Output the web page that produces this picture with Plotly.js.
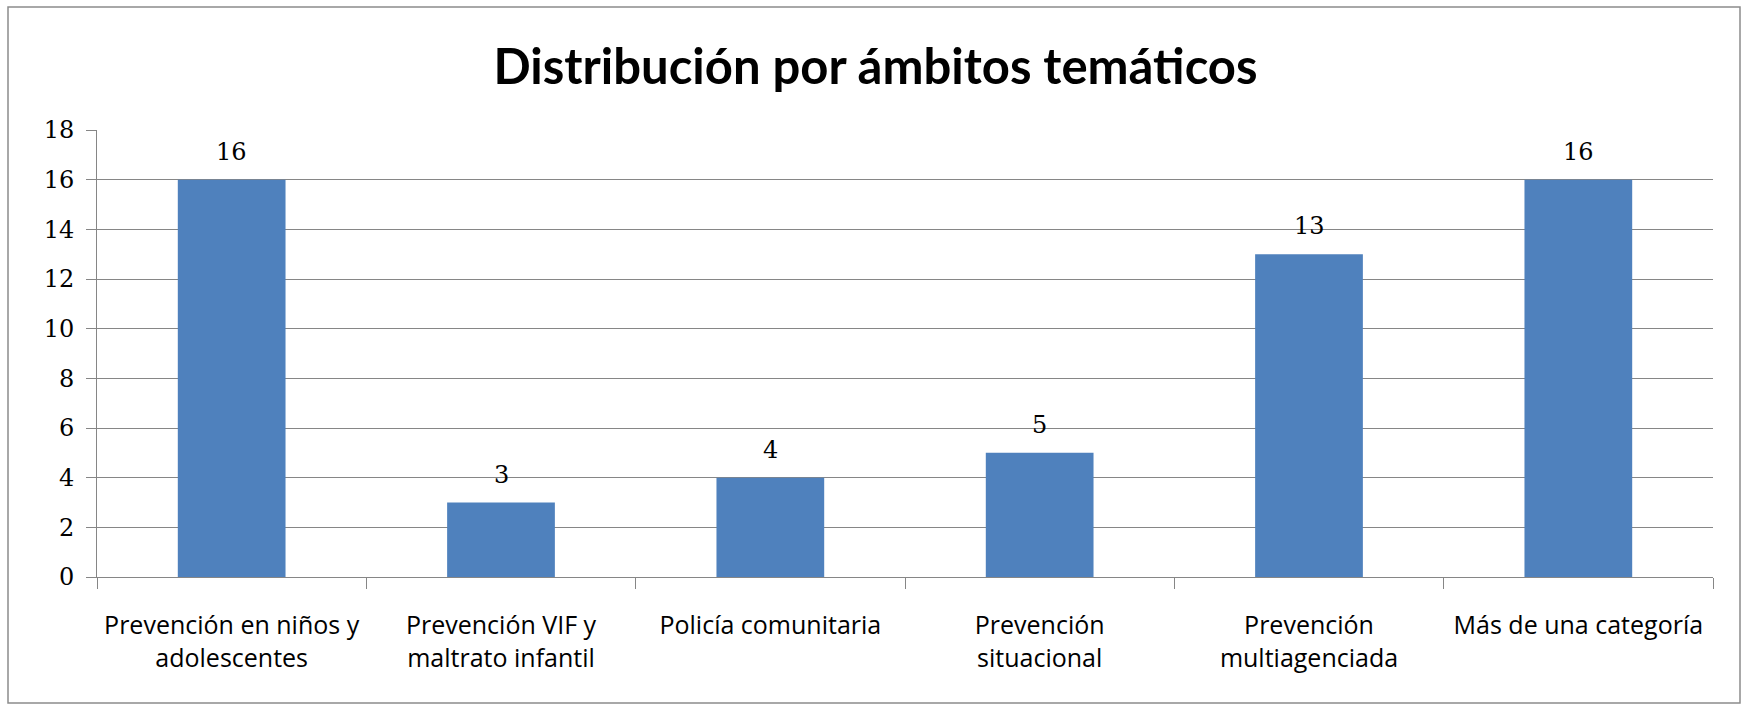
<!DOCTYPE html>
<html>
<head>
<meta charset="utf-8">
<script src="https://cdn.plot.ly/plotly-3.0.1.min.js"></script>
<style>html,body{margin:0;padding:0;background:#fff;}#chart{width:1744px;height:704px;}</style>
</head>
<body>
<div id="chart"></div>
<script>
const chartTitle = "Distribución por ámbitos temáticos";
const categories = [
  "Prevención en niños y<br>adolescentes",
  "Prevención VIF y<br>maltrato infantil",
  "Policía comunitaria",
  "Prevención<br>situacional",
  "Prevención<br>multiagenciada",
  "Más de una categoría"
];
const values = [16, 3, 4, 5, 13, 16];
const yTickValues = [0, 2, 4, 6, 8, 10, 12, 14, 16, 18];

const W = 1744, H = 704;
const L = 97, R = 31, T = 130, B = 127;
const pw = W - L - R, ph = H - T - B;

const trace = {
  type: 'bar',
  x: categories,
  y: values,
  marker: {color: '#4F81BD'},
  hoverinfo: 'x+y'
};

const annotations = categories.map((c, i) => ({
  x: c, y: values[i], xref: 'x', yref: 'y',
  text: String(values[i]), showarrow: false,
  yanchor: 'bottom', yshift: 12,
  font: {family: 'DejaVu Serif, serif', size: 24, color: '#000'}
}));

const layout = {
  width: W, height: H,
  margin: {l: L, r: R, t: T, b: B, pad: 0},
  paper_bgcolor: '#fff', plot_bgcolor: '#fff',
  showlegend: false,
  bargap: 0.6,
  title: {
    text: chartTitle,
    x: 0.502, xanchor: 'center', y: 0.905, yanchor: 'middle',
    font: {family: 'Lato, sans-serif', size: 49, color: '#000', weight: 'bold'}
  },
  xaxis: {
    type: 'category',
    tickson: 'boundaries',
    ticks: 'outside', ticklen: 11, tickcolor: '#868686', tickwidth: 1,
    showline: true, linecolor: '#868686', linewidth: 1,
    showgrid: false,
    tickfont: {family: 'Open Sans, sans-serif', size: 25, color: '#000'},
    ticklabelstandoff: 26
  },
  yaxis: {
    range: [0, 18],
    tickvals: yTickValues,
    ticktext: yTickValues.map(String),
    ticks: 'outside', ticklen: 10, tickcolor: '#868686', tickwidth: 1,
    showline: true, linecolor: '#868686', linewidth: 1,
    showgrid: true, gridcolor: '#868686', gridwidth: 1,
    zeroline: false,
    tickfont: {family: 'DejaVu Serif, serif', size: 24, color: '#000'},
    ticklabelstandoff: 7
  },
  annotations: annotations,
  shapes: [{
    type: 'rect', xref: 'paper', yref: 'paper',
    x0: (8 - L) / pw, x1: (1740 - L) / pw,
    y0: (H - 703 - B) / ph, y1: (H - 7 - B) / ph,
    line: {color: '#8c8c8c', width: 1.5}, fillcolor: 'rgba(0,0,0,0)', layer: 'below'
  }]
};

Plotly.newPlot('chart', [trace], layout, {displayModeBar: false, staticPlot: true});
</script>
</body>
</html>
